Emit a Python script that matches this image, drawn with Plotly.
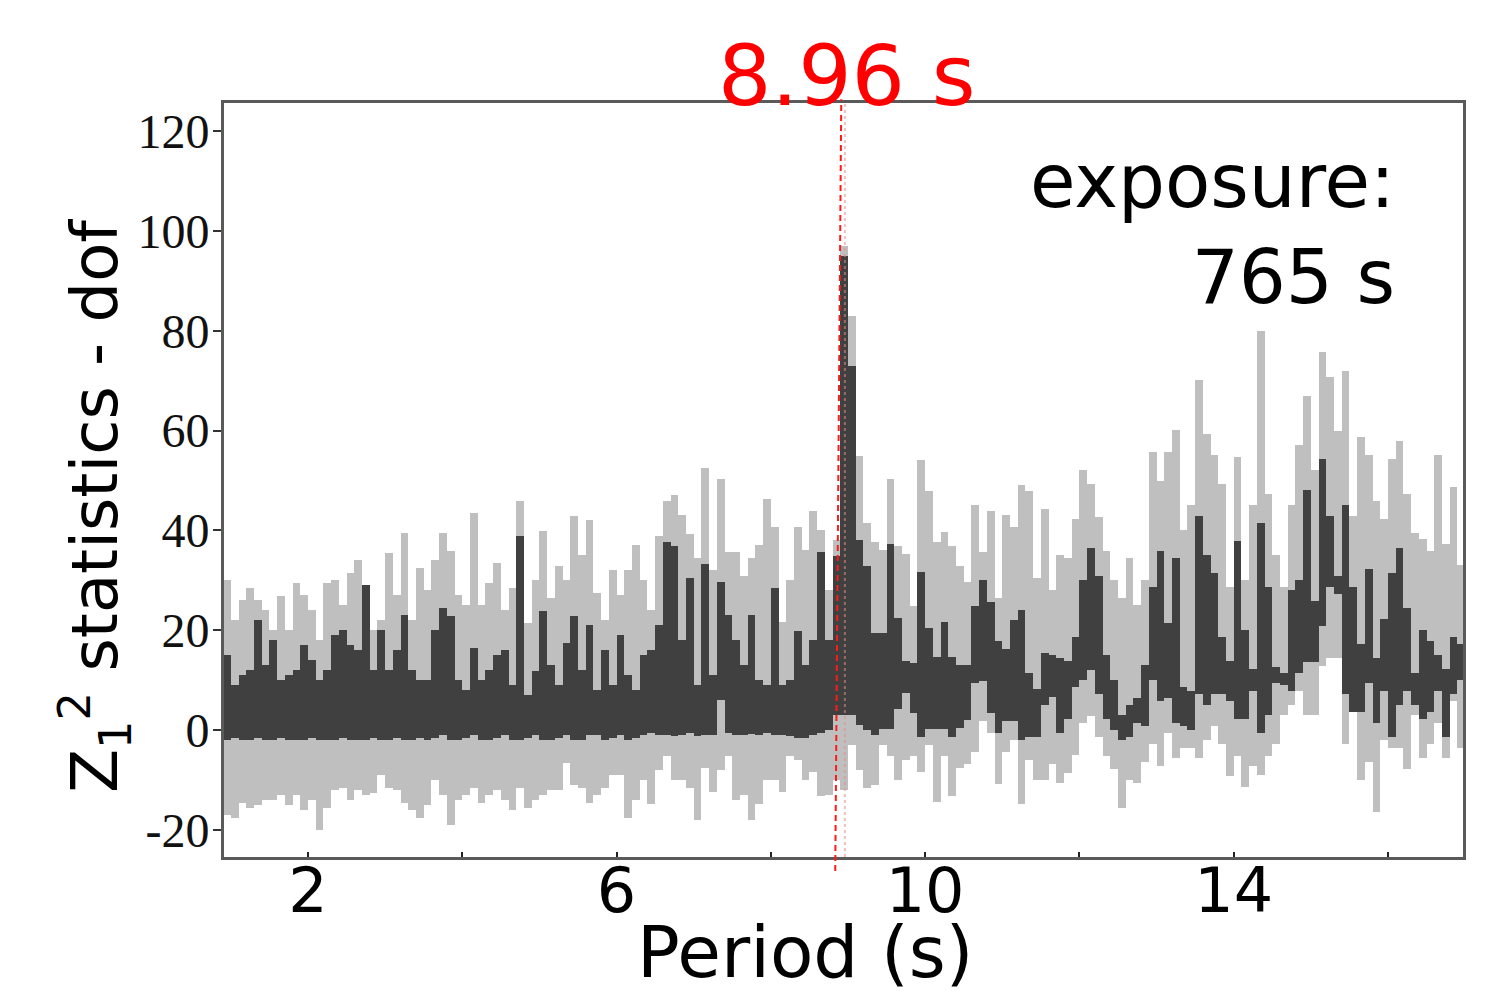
import plotly.graph_objects as go

# Period bins (s), 0.1 s apart
periods = [round(0.95 + 0.1 * i, 2) for i in range(161)]

# Dark series: upper and lower edge of each bin
dark_hi = [
    15, 9, 11, 12, 22, 13, 18, 10, 11, 12, 17, 14, 10, 12, 19, 20, 17, 16, 29, 12, 20, 12, 16, 23, 12, 10, 10,
    20, 24.4, 22.8, 10, 8, 16.5, 10, 12, 15, 16, 9, 38.8, 7, 11.8, 23.8, 13, 9, 17.5, 22.8, 12, 21.1, 8, 16.1, 9, 19.1, 11, 8,
    15, 16, 21, 37.6, 36.8, 18, 30.4, 9, 33.2, 11, 29.6, 23, 18, 13, 23, 10, 9, 28.5, 9, 10, 19.8, 13, 18, 35.6, 18, 34.8, 95,
    73, 38, 32.8, 19.4, 19.4, 37.2, 22.5, 13.8, 13.4, 31.6, 20.5, 14.6, 21.7, 14.6, 13, 13, 24.9, 30, 25.7, 17.8, 16.2, 22.1, 24.1, 11.4, 8.3, 15.4, 15,
    14.5, 13.9, 18.7, 30, 36.5, 30.8, 15, 10, 3, 5.1, 6.5, 13.1, 28.7, 35.8, 21.5, 34.4, 8.6, 7.9, 42.9, 35.1, 31.5, 18.7, 13.9, 37.9, 20.1, 12.2, 41.5,
    28.7, 12.7, 11.5, 28, 30, 48, 25.8, 54.4, 42.9, 30.8, 45.1, 28.7, 17.2, 32.2, 14.4, 22.2, 31.5, 36.5, 24.4, 11.5, 20.1, 17.9, 15.1, 12.2, 18.7, 17.2,
]
dark_lo = [
    -2, -1.5, -2, -2, -1.5, -2, -2, -1.5, -2, -2, -2, -1.5, -2, -2, -2, -1.5, -2, -2, -2, -1.5, -2, -2, -1.5, -2, -2, -1.5, -2,
    -1.5, -1, -2, -2, -1.5, -1, -2, -2, -1.5, -1, -2, -2, -1.5, -1, -2, -2, -1.5, -1, -2, -2, -1, -1, -2, -1.5, -1, -2, -1.5,
    -1, -0.5, -1, -1, -1.2, -1, -0.5, -1.2, -1, -1, 6, -0.5, -1, -1, -0.8, -1, -0.5, -1, -1, -1.2, -1.5, -1.5, -1, -0.5, 0, 3, 3,
    3, 1, 0, -1, 0.3, 0.3, 4.3, 7.5, 3.5, -1.3, 0.3, 0.3, 0.3, -1.3, 0.5, 2, 9.4, 9.8, 3.5, -0.5, 1.9, 1.9, -2, -1.3, -1.3, 5.1, 6.7,
    -0.5, 2.2, 8.6, 10, 12, 7.2, 2.2, 0, -2, -1.3, 1.5, 0.8, 10, 5.8, 6.5, 1.5, 0.8, 0.1, 7.2, 5.1, 7.2, 7.2, 5.8, 2.2, 2.2, 7.9, -0.6,
    3, 9.4, 9, 7.9, 11.5, 13.7, 13.7, 20.8, 28.7, 27.2, 7.2, 3.7, 3.7, 9.4, 1.5, 7.9, -1.3, 5.1, 7.9, 5.1, 2.2, 3.7, 7.9, -1.3, 7.2, 10.1,
]

# Light series: upper and lower edge of each bin
light_hi = [
    30, 22, 26, 28.5, 26, 24, 20, 26.8, 20, 29.5, 27, 24, 18, 29.5, 30, 25, 31.5, 34, 28, 20, 22, 35.4, 27, 39.4, 22, 32.5, 28,
    34, 39.5, 35.8, 27, 25, 43.5, 25, 29.5, 33.5, 24, 28.5, 45.8, 21.5, 30, 39.8, 26.5, 32.8, 30, 42.8, 35, 42.1, 27.5, 22, 32, 27, 32, 37,
    30, 24, 38.8, 45.9, 47.1, 43.1, 39.2, 34.4, 52.6, 32, 50.3, 35.6, 35.6, 30.8, 34.4, 37, 46.3, 40.7, 21.7, 30, 40.7, 36, 43.9, 40, 28, 38, 97,
    83, 55, 41.5, 37.6, 36, 50.3, 36.8, 35.2, 24.9, 54.2, 47.9, 37.6, 39.6, 36.8, 32.8, 29.6, 45.1, 35.6, 43.9, 26.5, 43.1, 40.7, 49.1, 47.9, 30.4, 44.3, 28,
    35, 34.4, 42.2, 52.2, 49.4, 42.6, 35.8, 30, 26.5, 34.4, 25.1, 30, 55.8, 50, 55.8, 60.1, 40, 45, 70.1, 59.4, 55.1, 49.4, 28.7, 54.7, 30, 45.1, 80,
    47.3, 35, 28.7, 45.1, 57.2, 66.9, 52.2, 75.8, 70.8, 60, 71.9, 42.9, 58.7, 55.1, 45.8, 42.2, 54.4, 58, 47.3, 39.4, 38.3, 35.8, 55.1, 37.2, 48.6, 33,
]
light_lo = [
    -17, -17.5, -14.5, -15.5, -15, -14, -14, -13, -15, -13, -16, -14, -19.9, -15.5, -12, -11.5, -14, -12, -13, -12.5, -9, -11.5, -12, -14.5, -16, -17.5, -15,
    -10, -13, -19, -14, -13, -11.5, -14.5, -13, -12, -14, -16, -11.5, -15.5, -14, -13, -12, -12, -6.5, -11, -11.5, -14.5, -13, -11.5, -9, -9, -17.5, -14,
    -10, -14.7, -8, -5.2, -10, -10, -11.6, -17.9, -7.6, -12.3, -8, -5.2, -13.9, -13, -17.9, -14.7, -10, -10, -12.3, -5.2, -6, -10, -8.4, -13.1, -13, -10, -12,
    -3, -8, -11.6, -11, -3, -5.2, -10, -6, -5.2, -8.4, -3, -14.3, -5.2, -13.1, -7.6, -6.8, -4.4, 1.9, -0.5, -10.8, -4.4, -2, -14.7, -6, -10, -10, -6.8,
    -10.6, -8.5, -5, 1.5, 2.9, -1.3, -5.1, -7.8, -15.6, -9.9, -10.6, -6.3, -2.8, -7.1, -0.6, -5.6, -3.5, -3.5, -5.6, -2, 0.8, -2.8, -9.2, -5.1, -11.3, -7.1, -9,
    -5.1, -2.8, 3, 5, 7.9, 3, 3, 12.9, 14.4, 14.4, -2.8, 3.7, -9.9, -6.3, -16.3, -2, -3.5, -3.5, -7.8, 3, -5.6, -2.8, 1.5, -5.6, 5.8, -3.5,
]

y_ticks = [-20, 0, 20, 40, 60, 80, 100, 120]
y_ticktext = ["-20", "0", "20", "40", "60", "80", "100", "120"]
x_ticks = [2, 4, 6, 8, 10, 12, 14, 16]
x_ticktext = ["2", "", "6", "", "10", "", "14", ""]

best_period = 8.96
line_period = [8.835, 8.913]

SANS = "DejaVu Sans, sans-serif"

fig = go.Figure()
fig.add_trace(go.Bar(
    x=periods, y=[h - l for h, l in zip(light_hi, light_lo)], base=light_lo,
    width=0.1, marker=dict(color="#bfbfbf", line=dict(width=0)), showlegend=False,
))
fig.add_trace(go.Bar(
    x=periods, y=[h - l for h, l in zip(dark_hi, dark_lo)], base=dark_lo,
    width=0.1, marker=dict(color="#404040", line=dict(width=0)), showlegend=False,
))

# faint original marker line at the best period
fig.add_shape(type="line", xref="x", yref="paper", x0=best_period, x1=best_period, y0=0, y1=1,
              line=dict(color="rgba(225,140,140,0.55)", width=2, dash="dot"), layer="above")
# red dashed marker line
fig.add_shape(type="line", xref="x", yref="paper", x0=line_period[0], x1=line_period[1], y0=-0.0185, y1=1.005,
              line=dict(color="#ff1a1a", width=2, dash="6px,4px"), layer="above")

fig.add_annotation(text=f"{best_period} s", xref="paper", yref="paper", x=0.503, y=0.968,
                   xanchor="center", yanchor="bottom", showarrow=False,
                   font=dict(family=SANS, size=84, color="#ff0000"))
fig.add_annotation(text="exposure:<br>765 s", xref="paper", yref="paper", x=0.947, y=0.956,
                   xanchor="right", yanchor="top", align="right", showarrow=False,
                   font=dict(family=SANS, size=74, color="#000000"))
fig.add_annotation(text="Period (s)", xref="paper", yref="paper", x=0.469, y=-0.126,
                   xanchor="center", yanchor="middle", showarrow=False,
                   font=dict(family=SANS, size=71, color="#000000"))
fig.add_annotation(text="Z<sub>1</sub><sup>2</sup> statistics - dof", xref="paper", yref="paper",
                   x=-0.104, y=0.466, xanchor="center", yanchor="middle", textangle=-90, showarrow=False,
                   font=dict(family=SANS, size=64, color="#000000"))

fig.update_layout(
    width=1500, height=983,
    margin=dict(l=216, r=45, t=95, b=134, autoexpand=False),
    paper_bgcolor="white", plot_bgcolor="white",
    barmode="overlay", bargap=0,
    showlegend=False,
)
fig.update_xaxes(
    range=[0.911, 16.973], tickvals=x_ticks, ticktext=x_ticktext, automargin=False,
    ticks="inside", ticklen=5, tickwidth=2, tickcolor="#222",
    showline=True, linecolor="#5a5a5a", linewidth=3, mirror=True, showgrid=False, zeroline=False,
    tickfont=dict(family=SANS, size=62, color="#000"), ticklabelstandoff=-22,
)
fig.update_yaxes(
    range=[-25.4, 125.6], tickvals=y_ticks, ticktext=y_ticktext, automargin=False,
    ticks="outside", ticklen=8, tickwidth=2, tickcolor="#333",
    showline=True, linecolor="#5a5a5a", linewidth=3, mirror=True, showgrid=False, zeroline=False,
    tickfont=dict(family="Liberation Serif, Times New Roman, serif", size=48, color="#111"),
    ticklabelstandoff=-6,
)

fig.write_html("out.html")
